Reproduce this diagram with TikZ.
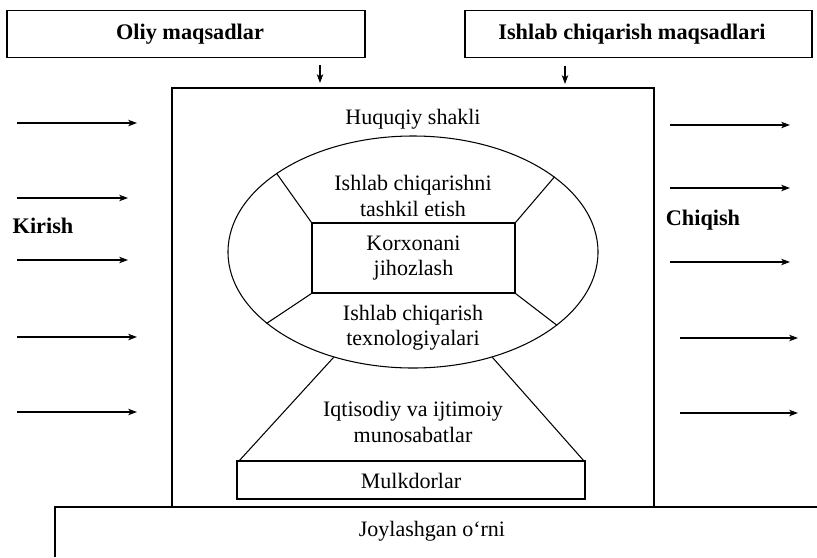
\documentclass[tikz,border=0pt]{standalone}
\usepackage{fontspec}
\setmainfont{Liberation Serif}
\usetikzlibrary{shapes.geometric,arrows.meta}
\begin{document}
\begin{tikzpicture}[x=0.03cm,y=-0.03cm,
  every node/.style={font=\fontsize{18.8}{21.5}\selectfont},
  box/.style={draw,line width=0.9pt,rectangle,inner sep=0pt},
  lbl/.style={align=center,inner sep=0pt},
  bold/.style={font=\fontsize{19}{21.5}\selectfont\bfseries,inner sep=0pt},
  arr/.style={line width=0.9pt,-{Stealth[length=7.5pt,width=5.5pt,inset=2pt]}},
  ln/.style={line width=0.9pt}]
\useasboundingbox (0,0) rectangle (817,557);
% top boxes
\node[box,minimum width=10.74cm,minimum height=1.41cm] (oliy) at (186,34) {};
\node[bold] (oliyt) at (190,34) {Oliy maqsadlar};
\node[box,minimum width=10.41cm,minimum height=1.41cm] (ish) at (638.5,34) {};
\node[bold] (isht) at (632,34) {Ishlab chiqarish maqsadlari};
\coordinate (d1a) at (320,65); \coordinate (d1b) at (320,83);
\coordinate (d2a) at (565,66); \coordinate (d2b) at (565,84);
\draw[arr] (d1a) -- (d1b);
\draw[arr] (d2a) -- (d2b);
% main box
\node[box,minimum width=14.46cm,minimum height=12.57cm] (main) at (413,297.5) {};
% bottom box (Joylashgan)
\coordinate (jtl) at (55,507);
\coordinate (jbl) at (55,557);
\coordinate (jtr) at (817,507);
\draw[ln] (jbl) -- (jtl) -- (jtr);
\node[lbl] (joy) at (432,531) {Joylashgan o‘rni};
% ellipse
\node[draw,ellipse,line width=0.9pt,inner sep=0pt,minimum width=11.1cm,minimum height=6.96cm] (ell) at (413,252) {};
\node[box,minimum width=6.09cm,minimum height=2.1cm] (korx) at (413.5,258) {};
\node[lbl] (korxt) at (413.5,258) {Korxonani\\jihozlash};
\node[lbl] (huq) at (413,119) {Huquqiy shakli};
\node[lbl] (tash) at (413,196) {Ishlab chiqarishni\\tashkil etish};
\node[lbl] (tex) at (413,328) {Ishlab chiqarish\\texnologiyalari};
\draw[ln] (ell.150.5) -- (korx.north west);
\draw[ln] (ell.28.7) -- (korx.north east);
\draw[ln] (ell.206.3) -- (korx.south west);
\draw[ln] (ell.333.9) -- (korx.south east);
% Mulkdorlar
\node[box,minimum width=10.44cm,minimum height=1.14cm] (mulk) at (411,480) {};
\node[lbl] (mulkt) at (411,481) {Mulkdorlar};
\node[lbl] (iqt) at (413,422) {Iqtisodiy va ijtimoiy\\munosabatlar};
\draw[ln] (ell.233) -- ([xshift=0.09cm]mulk.north west);
\draw[ln] (ell.307) -- ([xshift=-0.06cm]mulk.north east);
% inputs
\node[bold] (kir) at (43,226) {Kirish};
\coordinate (a1) at (17,123); \coordinate (b1) at (137,123);
\coordinate (a2) at (17,198); \coordinate (b2) at (128,198);
\coordinate (a3) at (17,260); \coordinate (b3) at (128,260);
\coordinate (a4) at (17,337); \coordinate (b4) at (137,337);
\coordinate (a5) at (17,412); \coordinate (b5) at (137,412);
\foreach \i in {1,...,5} {\draw[arr] (a\i) -- (b\i);}
% outputs
\node[bold] (chi) at (703,220) {Chiqish};
\coordinate (c1) at (670,125); \coordinate (e1) at (790,125);
\coordinate (c2) at (670,188); \coordinate (e2) at (790,188);
\coordinate (c3) at (670,262); \coordinate (e3) at (790,262);
\coordinate (c4) at (680,338); \coordinate (e4) at (798,338);
\coordinate (c5) at (680,413); \coordinate (e5) at (798,413);
\foreach \i in {1,...,5} {\draw[arr] (c\i) -- (e\i);}
\end{tikzpicture}
\end{document}
